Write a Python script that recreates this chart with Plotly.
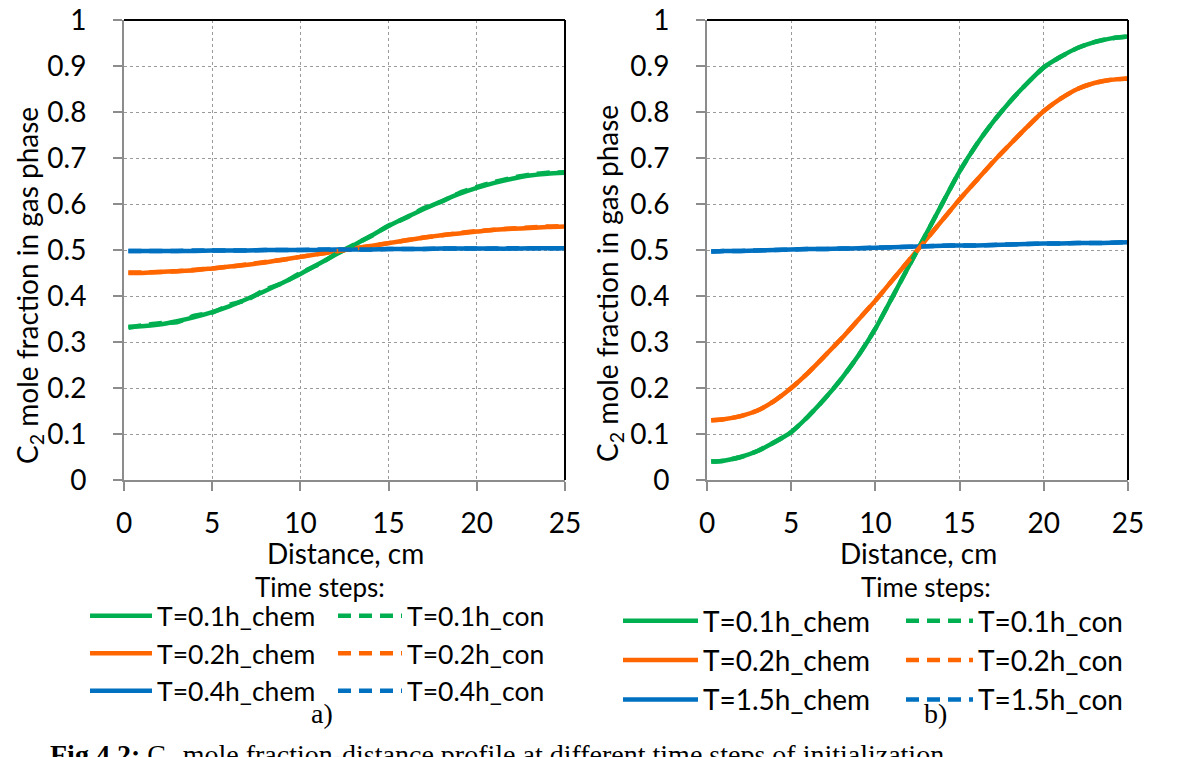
import plotly.graph_objects as go

# ---------------- data ----------------
distance = [0.25, 1, 2, 3, 4, 5, 6, 7, 8, 9, 10, 11, 12, 13, 14, 15, 16, 17, 18, 19, 20, 21, 22, 23, 24, 25]

# panel a)
a_green_chem = [0.333, 0.334, 0.338, 0.345, 0.354, 0.365, 0.378, 0.394, 0.411, 0.429, 0.448, 0.469, 0.490,
                0.510, 0.531, 0.552, 0.571, 0.589, 0.606, 0.622, 0.635, 0.646, 0.655, 0.662, 0.666, 0.668]
a_green_con = [0.331, 0.336, 0.341, 0.343, 0.357, 0.364, 0.381, 0.392, 0.414, 0.428, 0.450, 0.468, 0.491,
               0.511, 0.530, 0.553, 0.570, 0.591, 0.605, 0.624, 0.637, 0.648, 0.657, 0.664, 0.668, 0.669]
a_orange_chem = [0.450, 0.450, 0.452, 0.454, 0.456, 0.460, 0.464, 0.468, 0.473, 0.479, 0.485, 0.491, 0.497,
                 0.503, 0.509, 0.515, 0.521, 0.527, 0.532, 0.536, 0.540, 0.544, 0.546, 0.548, 0.550, 0.551]
a_orange_con = [0.451, 0.451, 0.452, 0.454, 0.457, 0.460, 0.464, 0.469, 0.474, 0.479, 0.485, 0.491, 0.497,
                0.503, 0.509, 0.515, 0.521, 0.527, 0.532, 0.537, 0.541, 0.544, 0.547, 0.549, 0.551, 0.552]
a_blue_chem = [0.498, 0.498, 0.498, 0.498, 0.498, 0.499, 0.499, 0.499, 0.500, 0.500, 0.500, 0.500, 0.501,
               0.501, 0.501, 0.502, 0.502, 0.502, 0.503, 0.503, 0.503, 0.503, 0.503, 0.504, 0.504, 0.504]
a_blue_con = [0.498, 0.498, 0.498, 0.498, 0.499, 0.499, 0.499, 0.499, 0.500, 0.500, 0.500, 0.501, 0.501,
              0.501, 0.501, 0.502, 0.502, 0.502, 0.503, 0.503, 0.503, 0.503, 0.504, 0.504, 0.504, 0.504]

# panel b)
b_green_chem = [0.040, 0.042, 0.050, 0.063, 0.082, 0.104, 0.138, 0.177, 0.221, 0.271, 0.329, 0.397, 0.466,
                0.534, 0.603, 0.671, 0.729, 0.779, 0.823, 0.862, 0.897, 0.920, 0.939, 0.952, 0.960, 0.964]
b_green_con = [0.040, 0.042, 0.050, 0.063, 0.082, 0.104, 0.138, 0.177, 0.221, 0.271, 0.329, 0.397, 0.466,
               0.534, 0.603, 0.671, 0.729, 0.779, 0.823, 0.862, 0.897, 0.920, 0.939, 0.952, 0.960, 0.964]
b_orange_chem = [0.130, 0.132, 0.139, 0.151, 0.172, 0.200, 0.233, 0.270, 0.308, 0.349, 0.390, 0.434, 0.478,
                 0.522, 0.566, 0.610, 0.651, 0.692, 0.730, 0.767, 0.802, 0.829, 0.850, 0.863, 0.870, 0.873]
b_orange_con = [0.130, 0.132, 0.139, 0.151, 0.172, 0.200, 0.233, 0.270, 0.308, 0.349, 0.390, 0.434, 0.478,
                0.522, 0.566, 0.610, 0.651, 0.692, 0.730, 0.767, 0.802, 0.829, 0.850, 0.863, 0.870, 0.873]
b_blue_chem = [0.497, 0.498, 0.498, 0.499, 0.500, 0.501, 0.502, 0.502, 0.503, 0.504, 0.505, 0.506, 0.507,
               0.508, 0.509, 0.510, 0.510, 0.511, 0.512, 0.513, 0.514, 0.514, 0.515, 0.515, 0.516, 0.517]
b_blue_con = b_blue_chem

a_labels = ["T=0.1h", "T=0.2h", "T=0.4h"]
b_labels = ["T=0.1h", "T=0.2h", "T=1.5h"]
y_ticks = [0, 0.1, 0.2, 0.3, 0.4, 0.5, 0.6, 0.7, 0.8, 0.9, 1]
y_ticklabels = ["0", "0.1", "0.2", "0.3", "0.4", "0.5", "0.6", "0.7", "0.8", "0.9", "1"]
x_ticks = [0, 5, 10, 15, 20, 25]
x_title = "Distance, cm"
y_title = "C<sub>2</sub> mole fraction in gas phase"

colors = ["#00B050", "#FF6600", "#0070C0"]
FONT = "Lato"
DASH = "13px,8px"

W, H = 1178, 757
fig = go.Figure()

def px_x(p):
    return p / W

def px_y(p):
    return 1 - p / H

panels = [
    dict(xa="x", ya="y", labels=a_labels,
         chem=[a_green_chem, a_orange_chem, a_blue_chem],
         con=[a_green_con, a_orange_con, a_blue_con],
         leg_chem="legend", leg_con="legend2", tag="a"),
    dict(xa="x2", ya="y2", labels=b_labels,
         chem=[b_green_chem, b_orange_chem, b_blue_chem],
         con=[b_green_con, b_orange_con, b_blue_con],
         leg_chem="legend3", leg_con="legend4", tag="b"),
]

for p in panels:
    for i in range(3):
        fig.add_trace(go.Scatter(
            x=distance, y=p["chem"][i], mode="lines", xaxis=p["xa"], yaxis=p["ya"],
            name=p["labels"][i] + "_chem", legend=p["leg_chem"], legendgroup=p["tag"] + "c" + str(i),
            line=dict(color=colors[i], width=4.5, shape="spline", smoothing=0.6)))
    for i in range(3):
        fig.add_trace(go.Scatter(
            x=distance, y=p["con"][i], mode="lines", xaxis=p["xa"], yaxis=p["ya"],
            name=p["labels"][i] + "_con", legend=p["leg_con"], legendgroup=p["tag"] + "d" + str(i),
            line=dict(color=colors[i], width=4.5, dash=DASH, shape="spline", smoothing=0.6)))

TS = 28
axis_common = dict(
    showline=True, linecolor="#8C8C8C", linewidth=2,
    ticks="outside", ticklen=9, tickwidth=2, tickcolor="#8C8C8C",
    showgrid=True, gridcolor="#9A9A9A", gridwidth=1, griddash="dot",
    zeroline=False, tickfont=dict(family=FONT, size=TS, color="black"),
    automargin=False,
)

ydom = [px_y(480), px_y(20)]
fig.update_layout(
    xaxis=dict(domain=[px_x(124), px_x(565)], range=[0, 25], tickvals=x_ticks, anchor="y",
               ticklabelstandoff=8, **axis_common),
    yaxis=dict(domain=ydom, range=[0, 1], tickvals=y_ticks, ticktext=y_ticklabels, anchor="x",
               ticklabelstandoff=21, **axis_common),
    xaxis2=dict(domain=[px_x(707), px_x(1128)], range=[0, 25], tickvals=x_ticks, anchor="y2",
                ticklabelstandoff=8, **axis_common),
    yaxis2=dict(domain=ydom, range=[0, 1], tickvals=y_ticks, ticktext=y_ticklabels, anchor="x2",
                ticklabelstandoff=21, **axis_common),
)

# black top / right frame lines
for xr, yr in [("x domain", "y domain"), ("x2 domain", "y2 domain")]:
    fig.add_shape(type="line", xref=xr, yref=yr, x0=0, x1=1, y0=1, y1=1,
                  line=dict(color="black", width=2), layer="above")
    fig.add_shape(type="line", xref=xr, yref=yr, x0=1, x1=1, y0=0, y1=1,
                  line=dict(color="black", width=2), layer="above")

leg_common = dict(orientation="v", xanchor="left", yanchor="top", bgcolor="rgba(0,0,0,0)",
                  borderwidth=0, traceorder="normal", tracegroupgap=0)
fig.update_layout(
    legend=dict(x=px_x(85), y=px_y(592), itemwidth=62,
                font=dict(family=FONT, size=26.5, color="black"), **leg_common),
    legend2=dict(x=px_x(333), y=px_y(592), itemwidth=64,
                 font=dict(family=FONT, size=26.5, color="black"), **leg_common),
    legend3=dict(x=px_x(618), y=px_y(596), itemwidth=75,
                 font=dict(family=FONT, size=28, color="black"), **leg_common),
    legend4=dict(x=px_x(901), y=px_y(596), itemwidth=67,
                 font=dict(family=FONT, size=28, color="black"), **leg_common),
)

annos = [
    dict(text="Time steps:", x=px_x(320), y=px_y(587), size=26, family=FONT, angle=0),
    dict(text="Time steps:", x=px_x(926), y=px_y(587), size=26, family=FONT, angle=0),
    dict(text="a)", x=px_x(322), y=px_y(713), size=28, family="Liberation Serif", angle=0),
    dict(text="b)", x=px_x(935), y=px_y(713), size=28, family="Liberation Serif", angle=0),
    dict(text=x_title, x=px_x(345), y=px_y(553), size=TS, family=FONT, angle=0),
    dict(text=x_title, x=px_x(918), y=px_y(553), size=TS, family=FONT, angle=0),
    dict(text=y_title, x=px_x(29), y=px_y(286), size=TS, family=FONT, angle=-90),
    dict(text=y_title, x=px_x(609), y=px_y(284), size=TS, family=FONT, angle=-90),
]
for a in annos:
    fig.add_annotation(text=a["text"], x=a["x"], y=a["y"], xref="paper", yref="paper",
                       xanchor="center", yanchor="middle", showarrow=False, textangle=a["angle"],
                       font=dict(family=a["family"], size=a["size"], color="black"))
fig.add_annotation(text="<b>Fig.4.2:</b> C<sub>2</sub> mole fraction-distance profile at different time steps of initialization",
                   x=px_x(48), y=px_y(737), xref="paper", yref="paper", xanchor="left", yanchor="top",
                   showarrow=False, font=dict(family="Liberation Serif", size=28, color="black"))

fig.update_layout(width=W, height=H, margin=dict(l=0, r=0, t=0, b=0),
                  paper_bgcolor="white", plot_bgcolor="white", showlegend=True)

fig.write_html("out.html", config={"displayModeBar": False})
